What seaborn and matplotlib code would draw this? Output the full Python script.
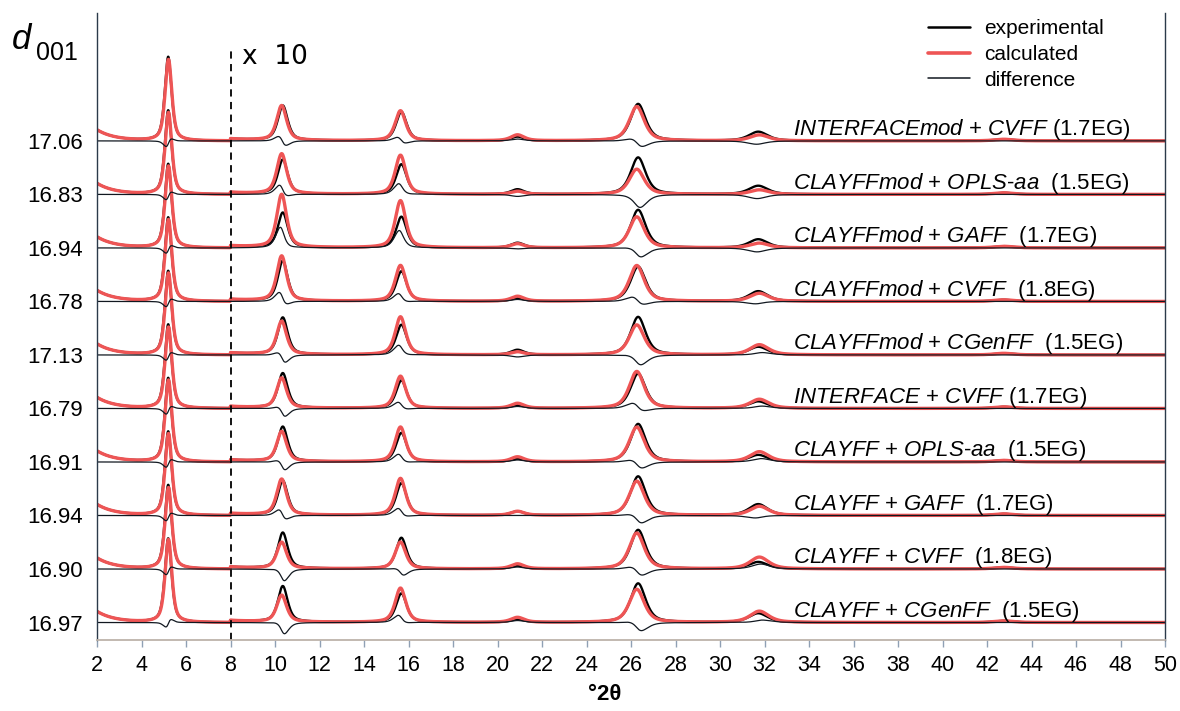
import numpy as np
import pandas as pd
import matplotlib
matplotlib.use("Agg")
import matplotlib.pyplot as plt
import seaborn as sns
from matplotlib.lines import Line2D

# ---------------- data ----------------
clay_ff = ["INTERFACEmod", "CLAYFFmod", "CLAYFFmod", "CLAYFFmod", "CLAYFFmod",
           "INTERFACE", "CLAYFF", "CLAYFF", "CLAYFF", "CLAYFF"]
organic_ff = ["CVFF", "OPLS-aa", "GAFF", "CVFF", "CGenFF",
              "CVFF", "OPLS-aa", "GAFF", "CVFF", "CGenFF"]
eg_ratio = ["1.7", "1.5", "1.7", "1.8", "1.5", "1.7", "1.5", "1.7", "1.8", "1.5"]
label_gap = [" ", "  ", "  ", "  ", "  ", " ", "  ", "  ", "  ", "  "]
d001 = ["17.06", "16.83", "16.94", "16.78", "17.13",
        "16.79", "16.91", "16.94", "16.90", "16.97"]

# reflections (00l) : position (deg 2theta), FWHM, shift of calculated peak
peak_pos = [5.2, 10.35, 15.68, 20.9, 26.32, 31.72, 42.75]
peak_fwhm = [0.36, 0.52, 0.56, 0.70, 0.80, 1.00, 1.00]
calc_shift = [0.012, -0.05, -0.04, 0.0, -0.06, 0.05, 0.0]

# raw intensities (a.u.), one row per reflection, one column per model (top -> bottom)
exp_int = [
    [157, 157, 157, 157, 157, 157, 157, 157, 157, 157],
    [6.5, 6.4, 6.5, 7.5, 6.9, 6.5, 6.5, 6.4, 6.7, 6.7],
    [5.4, 5.6, 5.8, 5.6, 5.6, 5.2, 5.4, 6.0, 5.8, 5.4],
    [0.75, 0.93, 0.93, 0.56, 0.93, 0.56, 0.56, 0.75, 0.56, 0.56],
    [6.9, 6.9, 7.1, 6.5, 7.1, 6.5, 7.1, 7.3, 7.3, 7.3],
    [1.7, 1.6, 1.6, 1.9, 1.5, 1.3, 1.3, 2.1, 1.3, 1.7],
    [0.3, 0.3, 0.3, 0.3, 0.3, 0.3, 0.3, 0.3, 0.3, 0.3],
]
calc_int = [
    [152, 153, 153, 153, 153, 152, 153, 153, 152, 155],
    [6.5, 7.5, 9.9, 8.4, 6.2, 5.6, 5.6, 6.7, 4.9, 5.0],
    [5.6, 7.3, 8.8, 6.7, 7.1, 6.0, 6.5, 6.9, 5.0, 6.4],
    [1.1, 0.56, 0.75, 0.93, 0.56, 0.93, 0.93, 0.75, 0.93, 0.93],
    [6.4, 4.7, 5.8, 6.7, 5.6, 6.9, 6.5, 6.4, 6.7, 6.2],
    [1.1, 0.84, 0.88, 1.5, 1.9, 1.7, 1.9, 1.7, 2.2, 2.1],
    [0.3, 0.3, 0.3, 0.3, 0.3, 0.3, 0.3, 0.3, 0.3, 0.3],
]
low_angle_bg = 20.6     # background at 2 deg (a.u.)
low_angle_decay = 0.8   # deg
scale_from = 8.0
scale_factor = 10

# ---------------- style ----------------
sns.set_theme(style="white")
plt.rcParams["font.family"] = ["Liberation Sans", "DejaVu Sans"]
plt.rcParams["mathtext.fontset"] = "custom"
plt.rcParams["mathtext.it"] = "Liberation Sans:italic"
plt.rcParams["mathtext.rm"] = "Liberation Sans"
plt.rcParams["mathtext.bf"] = "Liberation Sans:bold"
plt.rcParams["text.color"] = "black"
plt.rcParams["xtick.color"] = "black"
plt.rcParams["ytick.color"] = "black"

RED = "#EE5555"
STEP = 100.0

tt = np.linspace(2, 50, 4801)


def pv(x, x0, fwhm, eta=0.6):
    hw = fwhm / 2
    lor = 1.0 / (1.0 + ((x - x0) / hw) ** 2)
    gau = np.exp(-np.log(2) * ((x - x0) / hw) ** 2)
    return eta * lor + (1 - eta) * gau


def pattern(j, heights, shifted):
    y = low_angle_bg * np.exp(-(tt - 2) / low_angle_decay)
    for k, x0 in enumerate(peak_pos):
        pos = x0 + (calc_shift[k] if shifted else 0.0)
        y = y + heights[k][j] * pv(tt, pos, peak_fwhm[k])
    return np.where(tt >= scale_from, y * scale_factor, y)


rows = []
n = len(d001)
for j in range(n):
    off = (n - 1 - j) * STEP
    e = pattern(j, exp_int, False)
    c = pattern(j, calc_int, True)
    d = c - e
    for kind, arr in (("experimental", e), ("calculated", c), ("difference", d)):
        rows.append(pd.DataFrame({"tt": tt, "I": arr + off, "trace": j, "kind": kind}))
df = pd.concat(rows, ignore_index=True)

fig = plt.figure(figsize=(11.8, 7.11), dpi=100)
ax = fig.add_axes([97 / 1180, 1 - 640 / 711, (1165 - 97) / 1180, (640 - 13) / 711])

styles = {"experimental": ("black", 1.7), "calculated": (RED, 2.4), "difference": ("#111820", 0.9)}
for kind in ["experimental", "calculated", "difference"]:
    col, lw = styles[kind]
    sns.lineplot(data=df[df.kind == kind], x="tt", y="I", units="trace", estimator=None,
                 sort=False, color=col, linewidth=lw, legend=False, ax=ax)

ymin, ymax = -0.327 * STEP, 11.39 * STEP
ax.set_xlim(2, 50)
ax.set_ylim(ymin, ymax)
ax.vlines(scale_from, ymin, 10.7 * STEP, colors="black", linestyles=(0, (4, 3)), linewidth=1.3)
ax.text(8.5, 10.57 * STEP, "x  10", fontsize=19, va="center", ha="left", family="DejaVu Sans")

offsets = [(n - 1 - j) * STEP for j in range(n)]
ax.set_yticks(offsets)
ax.set_yticklabels(d001)
ax.set_xticks(range(2, 51, 2))
ax.tick_params(axis="y", length=0, labelsize=16, pad=10)
ax.tick_params(axis="x", length=5, width=1, color="#8fa0b4", labelcolor="black",
               labelsize=15.5, pad=6, direction="out", bottom=True)
ax.set_xlabel("")
ax.set_ylabel("")


def it(s):
    return "-".join(r"$\mathit{" + p + "}$" for p in s.split("-"))


for j in range(n):
    lbl = f"{it(clay_ff[j])} + {it(organic_ff[j])}{label_gap[j]}({eg_ratio[j]}EG)"
    ax.text(33.3, offsets[j] + 11, lbl, fontsize=16, ha="left", va="baseline")

ax.spines["top"].set_visible(False)
for s in ["left", "right"]:
    ax.spines[s].set_color("#2b3a4a")
    ax.spines[s].set_linewidth(1.0)
ax.spines["bottom"].set_color("#bdb3aa")
ax.spines["bottom"].set_linewidth(1.3)

handles = [Line2D([], [], color="black", lw=1.8),
           Line2D([], [], color=RED, lw=2.6),
           Line2D([], [], color="#111820", lw=1.1)]
ax.legend(handles, ["experimental", "calculated", "difference"], loc="upper left",
          bbox_to_anchor=(928 / 1180, 1 - 19 / 711), bbox_transform=fig.transFigure,
          frameon=False, fontsize=15, handlelength=2.0, handletextpad=0.7,
          labelspacing=0.33, borderpad=0, borderaxespad=0)

fig.text(12 / 1180, 1 - 49 / 711, "d", fontsize=25, style="italic", ha="left", va="baseline")
fig.text(36 / 1180, 1 - 60 / 711, "001", fontsize=18, ha="left", va="baseline")
fig.text(605 / 1180, 1 - 695 / 711, "°2θ", fontsize=16, fontweight="bold", ha="center", va="center")

fig.savefig("out.png", dpi=100)
